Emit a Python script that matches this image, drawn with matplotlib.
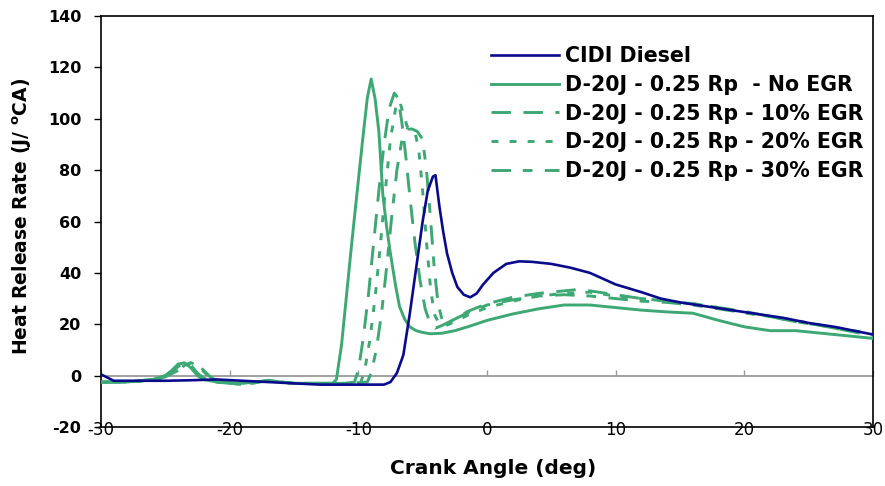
import matplotlib
matplotlib.use("Agg")
import matplotlib.pyplot as plt

plt.rcParams['font.family'] = ['DejaVu Sans']
plt.rcParams['mathtext.fontset'] = 'dejavusans'
plt.rcParams['lines.scale_dashes'] = False
plt.rcParams['axes.unicode_minus'] = False

# ---------------- data ----------------
x_cidi = [-30, -29, -27, -25, -23, -21, -19, -17, -15, -13, -11, -9, -8, -7.5, -7, -6.5, -6, -5.5, -5,
          -4.6, -4.2, -4.0, -3.7, -3.4, -3.1, -2.7, -2.3, -1.8, -1.3, -0.8, -0.3, 0.5, 1.5, 2.5, 3.5,
          5, 6.5, 8, 10, 12, 13.5, 15, 17, 19, 21, 23, 25, 27, 29, 30]
y_cidi = [0.5, -2, -2, -2, -1.8, -1.5, -2, -2.5, -3, -3.5, -3.5, -3.5, -3.5, -2.5, 1, 8, 24, 42, 60,
          72, 77.5, 78, 66, 56, 47.5, 40, 34.5, 31.5, 30.5, 32, 35.5, 40, 43.5, 44.5, 44.3,
          43.5, 42, 40, 35.5, 32.5, 30, 28.5, 27, 25.5, 24, 22.5, 20.5, 19, 17, 16]

x_noegr = [-30, -28, -26, -25, -24.5, -24, -23.5, -23, -22.5, -22, -21, -20, -19, -18, -17, -16, -15,
           -14, -13, -12, -11.7, -11.3, -10.9, -10.5, -10.1, -9.7, -9.3, -9.0, -8.7, -8.4, -8.1,
           -7.8, -7.5, -7.1, -6.8, -6.4, -6.0, -5.5, -5.0, -4.4, -3.5, -2.5, -1.5, 0, 2, 4, 6, 8,
           10, 12, 14, 16, 18, 20, 22, 24, 26, 28, 30]
y_noegr = [-2.5, -2.5, -1.5, 0, 2, 4.5, 5, 3, 0, -1.5, -2.5, -3, -3, -2.5, -1.8, -2.5, -3,
           -3, -3, -3, -1.5, 12, 32, 52, 71, 90, 108, 115.5, 108, 95, 71,
           58, 47.5, 35, 27, 22, 19, 17.5, 16.8, 16.3, 16.5, 17.5, 19, 21.5, 24, 26, 27.5, 27.5,
           26.5, 25.5, 24.8, 24.3, 21.5, 19, 17.5, 17.5, 16.5, 15.5, 14.5]

x_egr10 = [-30, -28, -26, -25, -24.5, -24, -23.5, -23, -22.5, -22, -21, -19, -17, -15, -13, -11,
           -10.3, -10, -9.6, -9.2, -8.8, -8.4, -8.0, -7.6, -7.2, -6.9, -6.6, -6.3, -6.0, -5.6,
           -5.2, -4.8, -4.4, -4.0, -3.5, -2.5, -1.5, 0, 2, 4, 6, 7, 8, 10, 12, 14, 16, 18, 20,
           22, 24, 26, 28, 30]
y_egr10 = [-2.5, -2.5, -1.5, 0, 1.5, 3.5, 5, 4, 1, -1, -2.5, -3, -2, -3, -3, -3,
           -2.5, 2, 15, 32, 52, 72, 90, 104, 110, 108, 98, 85, 70, 52,
           37, 26, 20, 18.5, 19.5, 22, 25, 28, 30.5, 32, 33, 33.5, 33, 31.5, 30, 29, 28, 26.5, 25,
           23, 21, 19.5, 17.5, 15.5]

x_egr20 = [-30, -28, -26, -25, -24, -23.5, -23, -22.5, -22, -21.5, -21, -19, -17, -15, -13, -11,
           -9.8, -9.5, -9.1, -8.7, -8.3, -7.9, -7.5, -7.1, -6.8, -6.5, -6.2, -5.9, -5.6, -5.3,
           -5.0, -4.7, -4.4, -4.1, -3.7, -3.2, -2.5, -1.5, 0, 2, 4, 6, 8, 10, 12, 14, 16, 18,
           20, 22, 24, 26, 28, 30]
y_egr20 = [-2.5, -2.5, -1.8, -0.5, 2, 4, 5, 4, 1.5, -1, -2.5, -3.5, -2, -3, -3, -3,
           -2.5, 2, 14, 30, 50, 72, 92, 104, 107, 102, 97, 96, 95, 88,
           72, 52, 35, 24, 20, 19.5, 21, 23.5, 26.5, 29, 31, 32, 32.5, 31, 30, 29, 28, 26.5,
           24.5, 23, 21.5, 19.5, 18, 16]

x_egr30 = [-30, -28, -26, -25, -24, -23.5, -23, -22.5, -22, -21.5, -21, -19, -17, -15, -13, -11,
           -9.3, -9.0, -8.6, -8.2, -7.8, -7.4, -7.0, -6.6, -6.2, -5.8, -5.4, -5.0, -4.7, -4.4,
           -4.1, -3.8, -3.5, -3.1, -2.5, -1.5, 0, 2, 4, 6, 8, 10, 12, 14, 16, 18, 20, 22, 24,
           26, 28, 30]
y_egr30 = [-2.5, -2.5, -1.8, -0.5, 2, 4, 5, 4.5, 2, -0.5, -2, -3.5, -2, -3, -3, -3,
           -2.5, 1, 10, 24, 42, 62, 80, 92, 96, 96, 95, 92, 80, 62,
           42, 28, 22, 20.5, 22, 24.5, 27.5, 29.5, 31, 31.5, 31, 30, 29, 28.5, 27.5, 26, 24.5, 23, 21,
           19.5, 17.5, 16.5]

labels = ["CIDI Diesel",
          "D-20J - 0.25 Rp  - No EGR",
          "D-20J - 0.25 Rp - 10% EGR",
          "D-20J - 0.25 Rp - 20% EGR",
          "D-20J - 0.25 Rp - 30% EGR"]

x_ticks = [-30, -20, -10, 0, 10, 20, 30]
y_ticks = [-20, 0, 20, 40, 60, 80, 100, 120, 140]

# ---------------- plot ----------------
navy = '#0a0a8c'
green = '#3da874'

fig = plt.figure(figsize=(8.85, 4.86), dpi=100)
ax = fig.add_axes([0.114, 0.1214, 0.8725, 0.8456])

lw = 2.1
ax.plot(x_cidi, y_cidi, color=navy, lw=1.9, zorder=4, label=labels[0])
ax.plot(x_noegr, y_noegr, color=green, lw=lw, zorder=3, label=labels[1])
ax.plot(x_egr10, y_egr10, color=green, lw=lw, zorder=3, linestyle=(0, (14, 9)), label=labels[2])
ax.plot(x_egr20, y_egr20, color=green, lw=lw, zorder=3, linestyle=(0, (5, 8)), label=labels[3])
ax.plot(x_egr30, y_egr30, color=green, lw=lw, zorder=3, linestyle=(0, (14, 8.5, 7, 9)), label=labels[4])

ax.set_xlim(-30, 30)
ax.set_ylim(-20, 140)

# x axis crossing at y = 0 (gray), box drawn in black
ax.spines['bottom'].set_position(('data', 0))
ax.spines['bottom'].set_color('#9a9a9a')
ax.spines['bottom'].set_linewidth(1.3)
ax.spines['bottom'].set_zorder(2)
for s in ['left', 'top', 'right']:
    ax.spines[s].set_color('black')
    ax.spines[s].set_linewidth(1.2)
ax.plot([0, 1], [0, 0], transform=ax.transAxes, color='black', lw=1.2, clip_on=False, zorder=5)

ax.set_xticks(x_ticks)
ax.set_yticks(y_ticks)
ax.tick_params(axis='x', direction='in', length=4, width=1, color='#9a9a9a', pad=33, labelsize=12)
ax.tick_params(axis='y', direction='out', length=5, width=1, pad=9, labelsize=11.5)
for t in ax.get_yticklabels():
    t.set_fontweight('bold')

fig.text(0.557, 0.037, "Crank Angle (deg)", ha='center', va='center', fontsize=14.5, fontweight='bold')
fig.text(0.025, 0.554, r"Heat Release Rate (J/ $^{\mathbf{o}}$CA)", ha='center', va='center',
         rotation=90, fontsize=13.5, fontweight='bold')

leg = ax.legend(loc='upper left', bbox_to_anchor=(481 / 885, 1 - 36 / 486), bbox_transform=fig.transFigure,
                frameon=False, borderpad=0, handlelength=3.3, handletextpad=0.3, labelspacing=0.42,
                prop={'size': 14.8, 'weight': 'bold'})

fig.savefig("out.png", dpi=100)
